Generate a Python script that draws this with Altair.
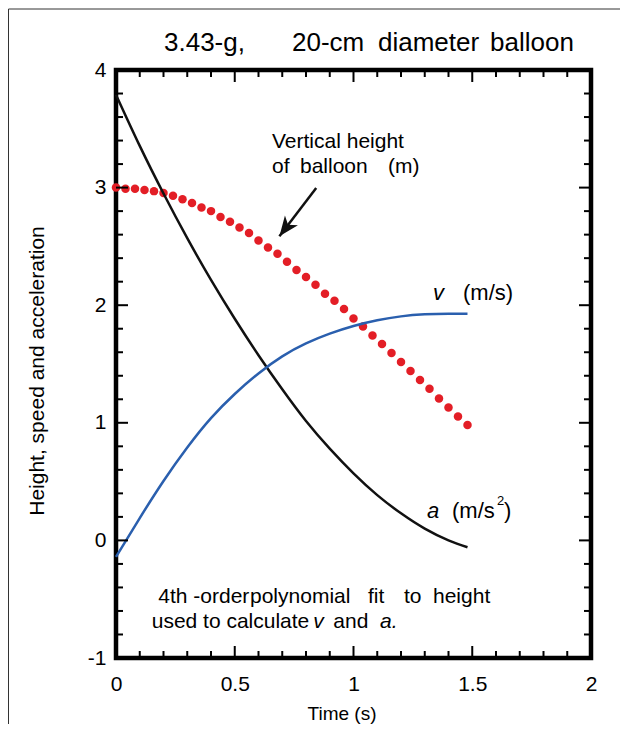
import altair as alt
import pandas as pd

FONT = "Liberation Sans"

# measured heights of the balloon (m) every 0.04 s
t_dots = [0.00, 0.04, 0.08, 0.12, 0.16, 0.20, 0.24, 0.28, 0.32, 0.36,
          0.40, 0.44, 0.48, 0.52, 0.56, 0.60, 0.64, 0.68, 0.72, 0.76,
          0.80, 0.84, 0.88, 0.92, 0.96, 1.00, 1.04, 1.08, 1.12, 1.16,
          1.20, 1.24, 1.28, 1.32, 1.36, 1.40, 1.44, 1.48]
heights = [3.00, 2.99, 2.99, 2.98, 2.97, 2.955, 2.93, 2.90, 2.87, 2.83,
           2.80, 2.75, 2.71, 2.66, 2.613, 2.55, 2.49, 2.437, 2.369, 2.30,
           2.239, 2.173, 2.097, 2.037, 1.967, 1.887, 1.819, 1.743, 1.67, 1.593,
           1.517, 1.44, 1.364, 1.29, 1.207, 1.131, 1.054, 0.981]

# fitted curves
t_curve = [0.0, 0.1, 0.2, 0.3, 0.4, 0.5, 0.6, 0.7, 0.8, 0.9, 1.0, 1.1, 1.2, 1.3, 1.4, 1.48]
accel = [3.79, 3.355, 2.95, 2.57, 2.215, 1.885, 1.575, 1.285, 1.015, 0.78, 0.57, 0.385, 0.23, 0.10, 0.00, -0.058]
speed = [-0.14, 0.19, 0.505, 0.79, 1.04, 1.245, 1.42, 1.565, 1.675, 1.758, 1.823, 1.872, 1.905, 1.922, 1.928, 1.928]

# axes
x_labels = [0, 0.5, 1, 1.5, 2]
y_labels = [-1, 0, 1, 2, 3, 4]
x_major_ticks = [0.5, 1, 1.5]
x_minor_ticks = [0.1, 0.2, 0.3, 0.4, 0.6, 0.7, 0.8, 0.9, 1.1, 1.2, 1.3, 1.4, 1.6, 1.7, 1.8, 1.9]
y_major_ticks = [0, 1, 2, 3]
y_minor_ticks = [-0.8, -0.6, -0.4, -0.2, 0.2, 0.4, 0.6, 0.8, 1.2, 1.4, 1.6, 1.8,
                 2.2, 2.4, 2.6, 2.8, 3.2, 3.4, 3.6, 3.8]

# arrow pointing at the height dots
arrow_tail = [0.843, 2.997]
arrow_tip = [0.688, 2.586]

W, H = 475, 588
xs = alt.Scale(domain=[0, 2], nice=False, zero=False)
ys = alt.Scale(domain=[-1, 4], nice=False, zero=False)
xaxis = alt.Axis(values=x_labels, labelExpr="toString(datum.value)", ticks=False, domain=False,
                 grid=False, labelFlush=False, labelFontSize=21, labelPadding=15,
                 labelColor="black", labelFont=FONT, title=None)
yaxis = alt.Axis(values=y_labels, labelExpr="toString(datum.value)", ticks=False, domain=False,
                 grid=False, labelFlush=False, labelFontSize=21, labelPadding=10,
                 labelColor="black", labelFont=FONT, title=None)

dots_df = pd.DataFrame({"t": t_dots, "h": heights})
curve_df = pd.DataFrame({"t": t_curve, "a": accel, "v": speed})

dots = alt.Chart(dots_df).mark_circle(size=72, color="#e31e26", opacity=1).encode(
    x=alt.X("t:Q", scale=xs, axis=xaxis),
    y=alt.Y("h:Q", scale=ys, axis=yaxis),
)
a_line = alt.Chart(curve_df).mark_line(color="#111111", strokeWidth=2.5, interpolate="natural").encode(
    x=alt.X("t:Q", scale=xs, axis=xaxis),
    y=alt.Y("a:Q", scale=ys, axis=yaxis),
)
v_line = alt.Chart(curve_df).mark_line(color="#2a5fae", strokeWidth=2.5, interpolate="natural").encode(
    x=alt.X("t:Q", scale=xs, axis=xaxis),
    y=alt.Y("v:Q", scale=ys, axis=yaxis),
)


def xticks(vals, length):
    df = pd.DataFrame({"x": vals})
    base = alt.Chart(df).mark_rule(color="black", strokeWidth=2)
    bottom = base.encode(x=alt.X("x:Q", scale=xs, axis=xaxis), y=alt.value(H), y2=alt.value(H - length))
    top = base.encode(x=alt.X("x:Q", scale=xs, axis=xaxis), y=alt.value(0), y2=alt.value(length))
    return [bottom, top]


def yticks(vals, length):
    df = pd.DataFrame({"y": vals})
    base = alt.Chart(df).mark_rule(color="black", strokeWidth=2)
    left = base.encode(y=alt.Y("y:Q", scale=ys, axis=yaxis), x=alt.value(0), x2=alt.value(length))
    right = base.encode(y=alt.Y("y:Q", scale=ys, axis=yaxis), x=alt.value(W), x2=alt.value(W - length))
    return [left, right]


one = pd.DataFrame({"k": [0]})


def label(text, x, y, size=21, italic=False, align="left", angle=0, baseline="alphabetic"):
    kw = dict(text=text, align=align, baseline=baseline, font=FONT, fontSize=size,
              color="black", fontStyle="italic" if italic else "normal")
    if angle:
        kw["angle"] = angle
    return alt.Chart(one).mark_text(**kw).encode(x=alt.value(x), y=alt.value(y))


arrow_df = pd.DataFrame({"x": [arrow_tail[0]], "y": [arrow_tail[1]],
                         "x2": [arrow_tip[0]], "y2": [arrow_tip[1]]})
arrow_line = alt.Chart(arrow_df).mark_rule(color="#111111", strokeWidth=2.5).encode(
    x=alt.X("x:Q", scale=xs, axis=xaxis), y=alt.Y("y:Q", scale=ys, axis=yaxis),
    x2="x2:Q", y2="y2:Q")
head_path = "M0,0 L0.65,1.6 L0,1.15 L-0.65,1.6 Z"
arrow_head = alt.Chart(arrow_df).mark_point(shape=head_path, filled=True, size=625, angle=217,
                                            color="#111111", opacity=1).encode(
    x=alt.X("x2:Q", scale=xs, axis=xaxis), y=alt.Y("y2:Q", scale=ys, axis=yaxis))

# outer figure frame (left and top)
frame_left = alt.Chart(one).mark_rule(color="#333333", strokeWidth=1).encode(
    x=alt.value(-107.5), y=alt.value(-61), y2=alt.value(H + 70))
frame_top = alt.Chart(one).mark_rule(color="#333333", strokeWidth=1).encode(
    x=alt.value(-107.5), x2=alt.value(W + 30), y=alt.value(-61))

texts = [
    # title
    label("3.43-g,", 48, -19, size=26),
    label("20-cm", 176, -19, size=26),
    label("diameter", 262, -19, size=26),
    label("balloon", 374, -19, size=26),
    # height annotation
    label("Vertical height", 156, 77.5),
    label("of", 156, 103.3),
    label("balloon", 184, 103.3),
    label("(m)", 272, 103.3),
    # v label
    label("v", 317, 230, size=22, italic=True),
    label("(m/s)", 347, 230, size=22),
    # a label
    label("a", 311, 448, size=22, italic=True),
    label("(m/s", 336, 448, size=22),
    label("2", 381, 435, size=13),
    label(")", 388, 448, size=22),
    # footnote
    label("4th", 42.3, 532.7),
    label("-order", 77.3, 532.7),
    label("polynomial", 134, 532.7),
    label("fit", 252, 532.7),
    label("to", 288, 532.7),
    label("height", 317, 532.7),
    label("used to calculate", 35.7, 558.3),
    label("v", 197.3, 558.3, italic=True),
    label("and", 217.3, 558.3),
    label("a.", 264, 558.3, italic=True),
    # axis titles
    label("Time (s)", 226, 650, size=19, align="center"),
    label("Height, speed and acceleration", -78, 301, size=21, align="center",
          angle=270, baseline="middle"),
]

layers = [dots, a_line, v_line]
layers += xticks(x_major_ticks, 12) + xticks(x_minor_ticks, 7)
layers += yticks(y_major_ticks, 12) + yticks(y_minor_ticks, 7)
layers += [arrow_line, arrow_head, frame_left, frame_top] + texts

chart = alt.layer(*layers).properties(
    width=W, height=H,
    padding={"left": 108, "top": 62, "right": 29, "bottom": 66},
    autosize=alt.AutoSizeParams(type="none"),
).configure_view(stroke="black", strokeWidth=4.5)

chart.save("out.html", embed_options={"renderer": "svg", "actions": False})
